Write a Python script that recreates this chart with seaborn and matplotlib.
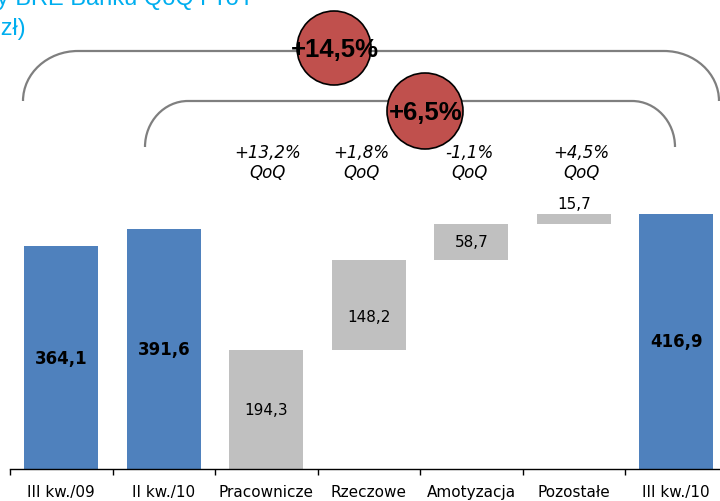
import matplotlib
matplotlib.use("Agg")
import matplotlib.pyplot as plt
import matplotlib.transforms as mtransforms
from matplotlib.path import Path
from matplotlib.patches import PathPatch, Circle
import seaborn as sns
import pandas as pd

# ---- data ----
categories = ["III kw./09", "II kw./10", "Pracownicze", "Rzeczowe",
              "Amotyzacja", "Pozostałe", "III kw./10"]
values = [364.1, 391.6, 194.3, 148.2, 58.7, 15.7, 416.9]
is_total = [True, True, False, False, False, False, True]
value_labels = ["364,1", "391,6", "194,3", "148,2", "58,7", "15,7", "416,9"]
qoq_labels = ["+13,2%\nQoQ", "+1,8%\nQoQ", "-1,1%\nQoQ", "+4,5%\nQoQ"]
yoy_label = "+14,5%"
qoq_total_label = "+6,5%"
title_line1 = "Koszty BRE Banku QoQ i YoY"
title_line2 = "(mln zł)"

# bases for waterfall steps
bases = []
run = 0.0
for v, t in zip(values, is_total):
    if t:
        bases.append(0.0)
    else:
        bases.append(run)
        run += v

BLUE = "#4F81BD"
GREY = "#C0C0C0"
RED = "#C0504D"
palette = {c: (BLUE if t else GREY) for c, t in zip(categories, is_total)}

sns.set_theme(style="white")
plt.rcParams["font.family"] = ["DejaVu Sans"]

W, H = 720, 502
fig = plt.figure(figsize=(W / 100, H / 100), dpi=100)
base_px = 470
px_per_unit = 255 / 416.9
ax = fig.add_axes([10 / W, (H - base_px) / H, 717.5 / W, base_px / H])

df = pd.DataFrame({"cat": categories, "val": values})
sns.barplot(data=df, x="cat", y="val", hue="cat", palette=palette,
            order=categories, hue_order=categories, width=0.72,
            saturation=1, legend=False, ax=ax, linewidth=0)

patches = sorted(ax.patches, key=lambda p: p.get_x())
for p, b in zip(patches, bases):
    p.set_y(b)

ax.set_xlim(-0.5, 6.5)
ax.set_ylim(0, base_px / px_per_unit)
ax.set_xlabel("")
ax.set_ylabel("")
for s in ["left", "top", "right"]:
    ax.spines[s].set_visible(False)
ax.spines["bottom"].set_color("black")
ax.spines["bottom"].set_linewidth(1.0)
ax.set_yticks([])
ax.set_xticks(range(len(categories)))
ax.set_xticklabels(categories, fontsize=11)
ax.tick_params(axis="x", which="major", bottom=False, length=0, pad=11,
               colors="black")
ax.set_xticks([i - 0.5 for i in range(len(categories) + 1)], minor=True)
ax.tick_params(axis="x", which="minor", bottom=True, length=4.5, width=1,
               direction="out", color="black")

# value labels
label_shift_px = [0, 0, 0, -12, 0, 0, 0]
for i, (v, b, t, lab) in enumerate(zip(values, bases, is_total, value_labels)):
    if i == 5:
        ax.annotate(lab, (i, b + v), xytext=(0, 2), textcoords="offset points",
                    ha="center", va="bottom", fontsize=11, color="black")
    else:
        ax.annotate(lab, (i, b + v / 2), xytext=(0, label_shift_px[i] * 0.72),
                    textcoords="offset points", ha="center", va="center",
                    fontsize=12 if t else 11,
                    fontweight="bold" if t else "normal", color="black")

# pixel transform (origin top-left)
T = mtransforms.Affine2D().scale(1 / 100, -1 / 100).translate(0, H / 100) + fig.dpi_scale_trans

qoq_px_x = [268, 361, 469, 581]
for x, lab in zip(qoq_px_x, qoq_labels):
    fig.text(x, 163, lab, transform=T, ha="center", va="center",
             fontsize=12, style="italic", linespacing=1.15, color="black")


def bracket(x0, x1, yt, yb, rx, ry):
    k = 0.5523
    verts = [
        (x0, yb), (x0, yt + ry),
        (x0, yt + ry - k * ry), (x0 + rx - k * rx, yt), (x0 + rx, yt),
        (x1 - rx, yt),
        (x1 - rx + k * rx, yt), (x1, yt + ry - k * ry), (x1, yt + ry),
        (x1, yb),
    ]
    codes = [Path.MOVETO, Path.LINETO,
             Path.CURVE4, Path.CURVE4, Path.CURVE4,
             Path.LINETO,
             Path.CURVE4, Path.CURVE4, Path.CURVE4,
             Path.LINETO]
    pp = PathPatch(Path(verts, codes), transform=T, fill=False,
                   edgecolor="#7F7F7F", linewidth=1.6, zorder=5)
    fig.add_artist(pp)


bracket(23, 719, 52, 102, 55, 50)
bracket(145, 675, 102, 148, 43, 46)

for (cx, cy, r, lab) in [(334, 49, 37, yoy_label), (425, 112, 38, qoq_total_label)]:
    c = Circle((cx, cy), r, transform=T, facecolor=RED, edgecolor="black",
               linewidth=1.2, zorder=6)
    fig.add_artist(c)
    fig.text(cx + 1, cy + 1, lab, transform=T, ha="center", va="center",
             fontsize=18.5, fontweight="bold", family="Liberation Sans",
             color="black", zorder=7)

# title (partially cropped as in reference)
CYAN = "#00AEEF"
fig.text(254, 5, title_line1, transform=T, ha="right", va="baseline",
         fontsize=17, family="Liberation Sans", color=CYAN)
fig.text(26, 35, title_line2, transform=T, ha="right", va="baseline",
         fontsize=17, family="Liberation Sans", color=CYAN)

fig.savefig("out.png", dpi=100)
